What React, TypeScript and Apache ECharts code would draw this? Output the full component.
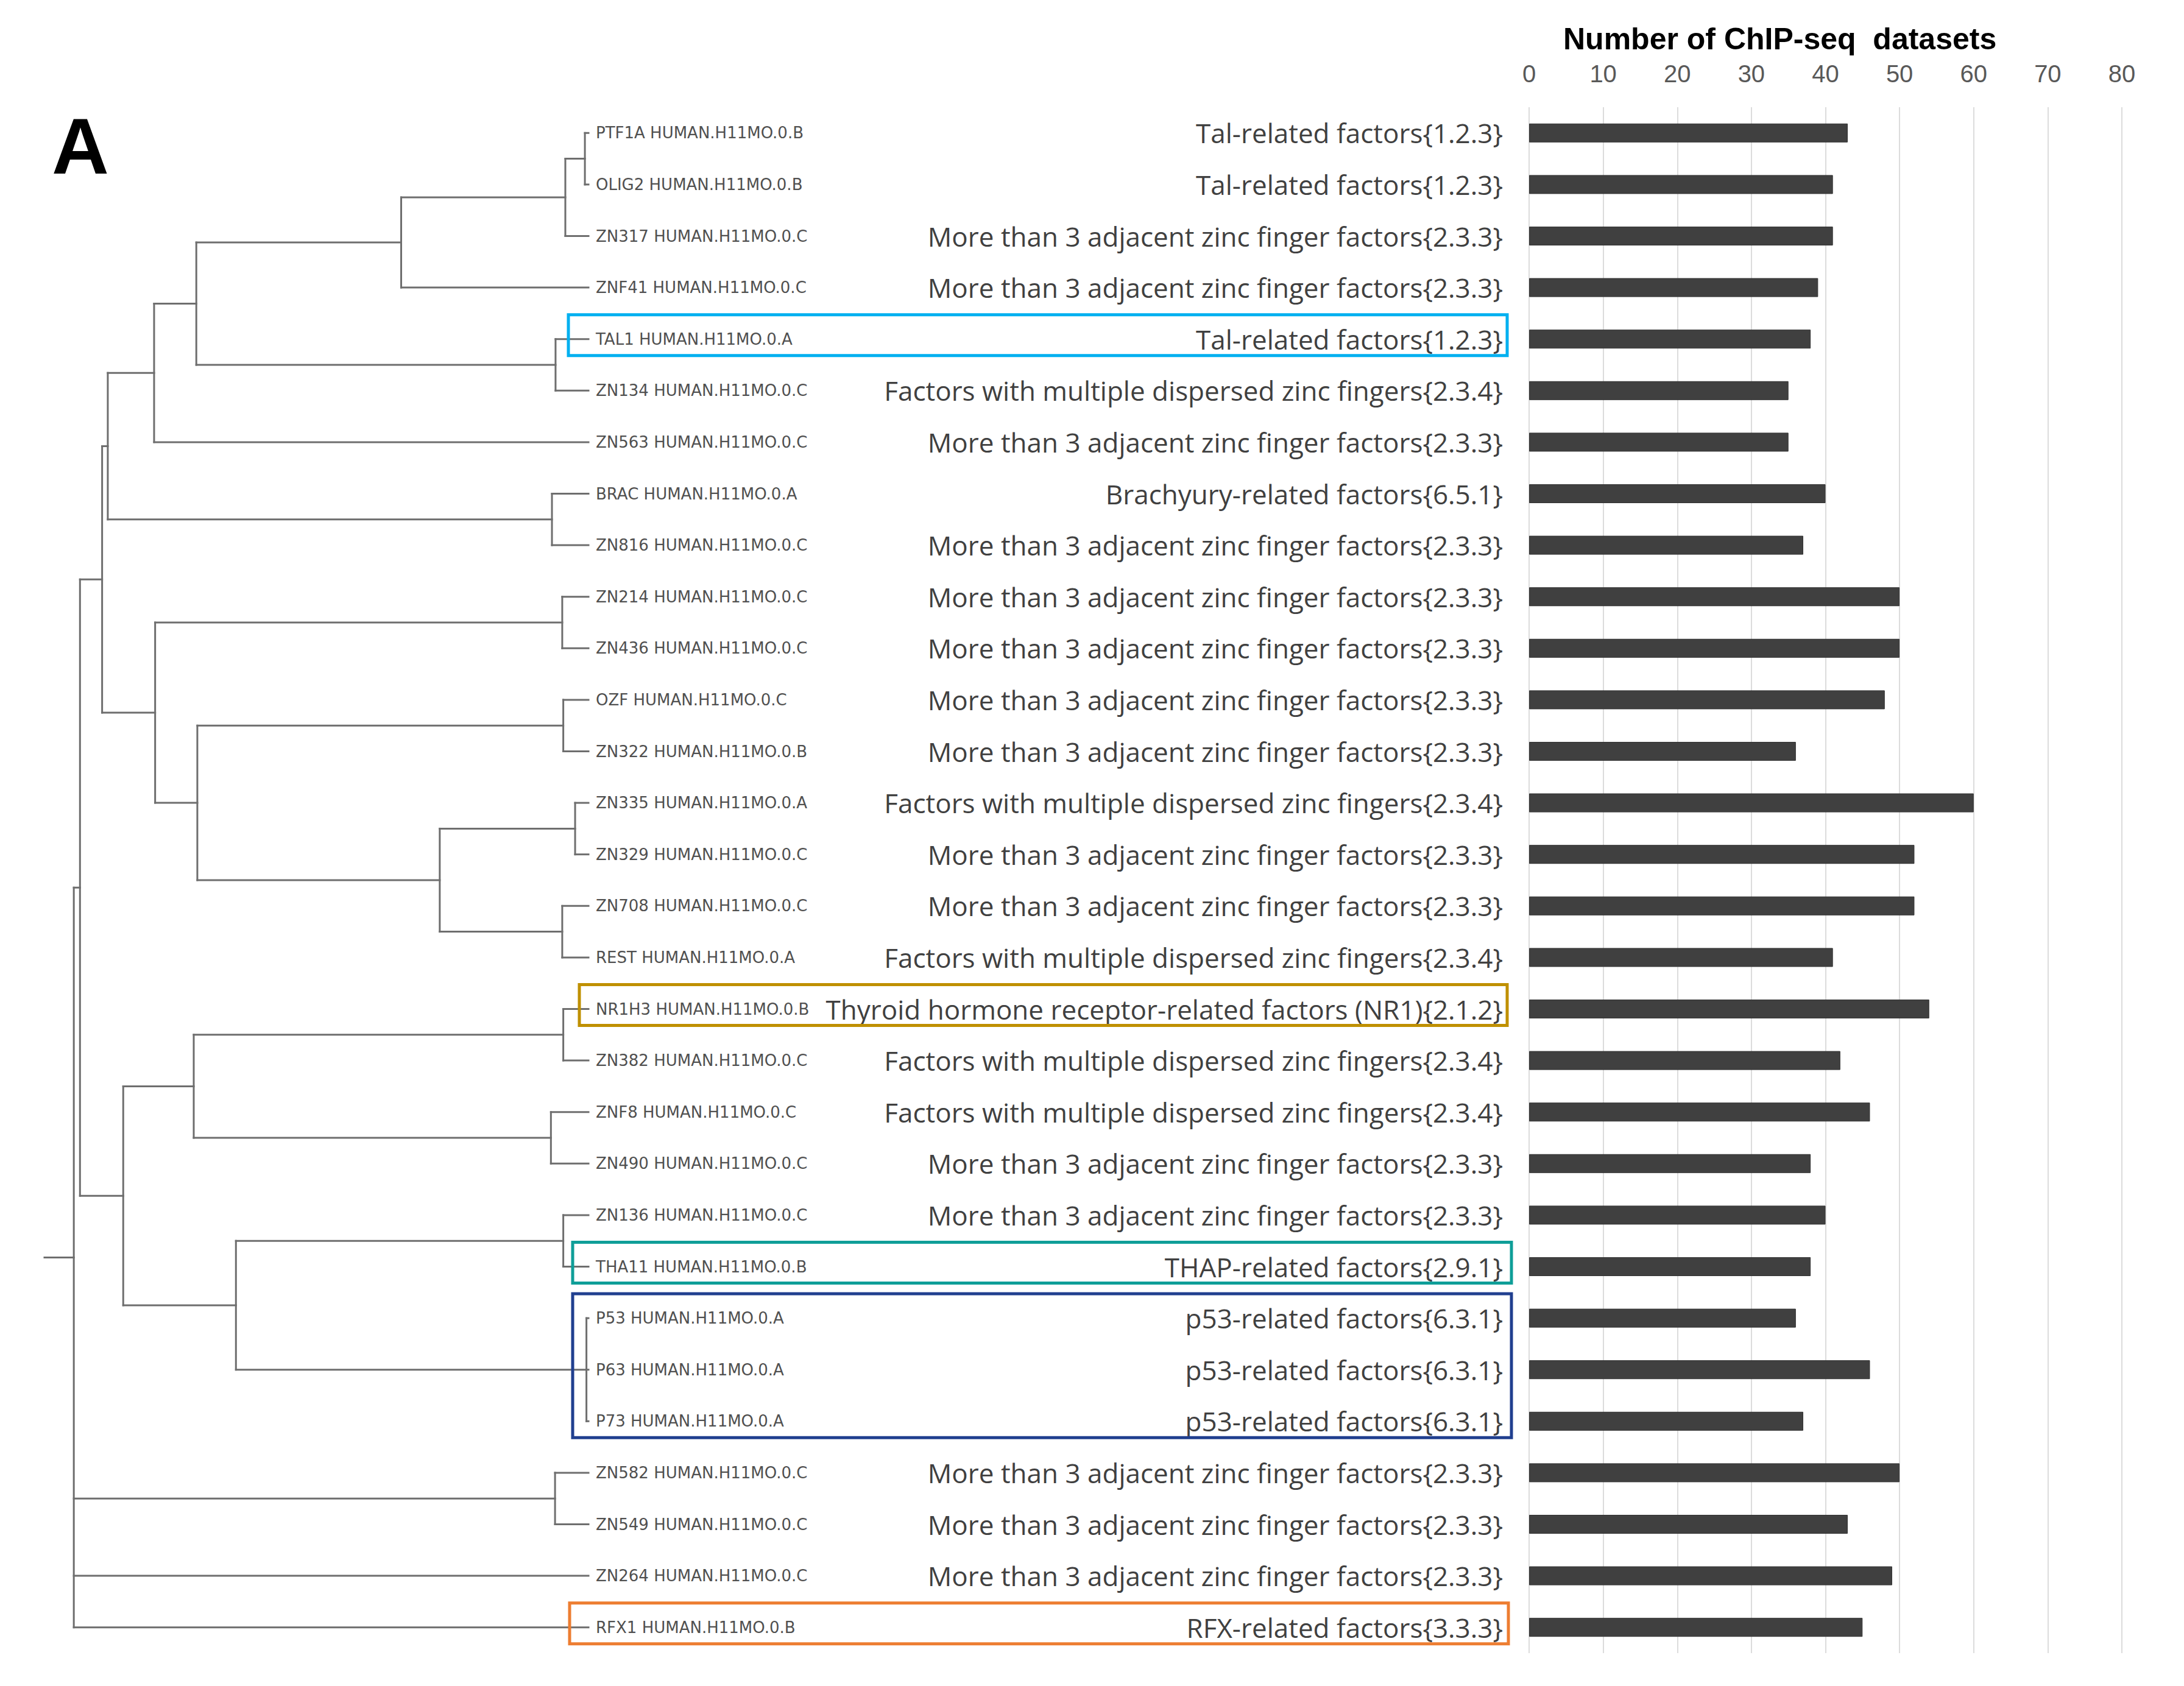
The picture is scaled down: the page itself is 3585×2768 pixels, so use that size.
import React, { useEffect, useRef } from 'react';
import * as echarts from 'echarts';

// ---------- data ----------
const motifNames = [
  'PTF1A HUMAN.H11MO.0.B', 'OLIG2 HUMAN.H11MO.0.B', 'ZN317 HUMAN.H11MO.0.C', 'ZNF41 HUMAN.H11MO.0.C',
  'TAL1 HUMAN.H11MO.0.A', 'ZN134 HUMAN.H11MO.0.C', 'ZN563 HUMAN.H11MO.0.C', 'BRAC HUMAN.H11MO.0.A',
  'ZN816 HUMAN.H11MO.0.C', 'ZN214 HUMAN.H11MO.0.C', 'ZN436 HUMAN.H11MO.0.C', 'OZF HUMAN.H11MO.0.C',
  'ZN322 HUMAN.H11MO.0.B', 'ZN335 HUMAN.H11MO.0.A', 'ZN329 HUMAN.H11MO.0.C', 'ZN708 HUMAN.H11MO.0.C',
  'REST HUMAN.H11MO.0.A', 'NR1H3 HUMAN.H11MO.0.B', 'ZN382 HUMAN.H11MO.0.C', 'ZNF8 HUMAN.H11MO.0.C',
  'ZN490 HUMAN.H11MO.0.C', 'ZN136 HUMAN.H11MO.0.C', 'THA11 HUMAN.H11MO.0.B', 'P53 HUMAN.H11MO.0.A',
  'P63 HUMAN.H11MO.0.A', 'P73 HUMAN.H11MO.0.A', 'ZN582 HUMAN.H11MO.0.C', 'ZN549 HUMAN.H11MO.0.C',
  'ZN264 HUMAN.H11MO.0.C', 'RFX1 HUMAN.H11MO.0.B',
];

const TAL = 'Tal-related factors{1.2.3}';
const ZF3 = 'More than 3 adjacent zinc finger factors{2.3.3}';
const ZFD = 'Factors with multiple dispersed zinc fingers{2.3.4}';
const P53F = 'p53-related factors{6.3.1}';

const tfFamilies = [
  TAL, TAL, ZF3, ZF3, TAL, ZFD, ZF3, 'Brachyury-related factors{6.5.1}', ZF3, ZF3,
  ZF3, ZF3, ZF3, ZFD, ZF3, ZF3, ZFD, 'Thyroid hormone receptor-related factors (NR1){2.1.2}', ZFD, ZFD,
  ZF3, ZF3, 'THAP-related factors{2.9.1}', P53F, P53F, P53F, ZF3, ZF3, ZF3, 'RFX-related factors{3.3.3}',
];

const chipSeqCounts = [
  43, 41, 41, 39, 38, 35, 35, 40, 37, 50,
  50, 48, 36, 60, 52, 52, 41, 54, 42, 46,
  38, 40, 38, 36, 46, 37, 50, 43, 49, 45,
];

const xTicks = [0, 10, 20, 30, 40, 50, 60, 70, 80];

// dendrogram merges: [node id, children (leaf index or node id), merge height]
const treeMerges: [string, (number | string)[], number][] = [
  ['n1', [0, 1], 0.007],
  ['n2', ['n1', 2], 0.045],
  ['n3', ['n2', 3], 0.364],
  ['n4', [4, 5], 0.064],
  ['n5', ['n3', 'n4'], 0.762],
  ['n6', ['n5', 6], 0.844],
  ['n7', [7, 8], 0.071],
  ['n8', ['n6', 'n7'], 0.934],
  ['n9', [9, 10], 0.051],
  ['n10', [11, 12], 0.049],
  ['n11', [13, 14], 0.026],
  ['n12', [15, 16], 0.051],
  ['n13', ['n11', 'n12'], 0.289],
  ['n14', ['n10', 'n13'], 0.76],
  ['n15', ['n9', 'n14'], 0.842],
  ['n16', ['n8', 'n15'], 0.945],
  ['n17', [17, 18], 0.049],
  ['n18', [19, 20], 0.073],
  ['n19', ['n17', 'n18'], 0.767],
  ['n20', [21, 22], 0.049],
  ['n21', [23, 24, 25], 0.004],
  ['n22', ['n20', 'n21'], 0.685],
  ['n23', ['n19', 'n22'], 0.904],
  ['n24', ['n16', 'n23'], 0.988],
  ['n25', [26, 27], 0.065],
  ['root', ['n24', 'n25', 28, 29], 1.0],
];
const rootStubEnd = 1.057;

// highlighted rows: [first row, last row, colour]
const highlightRows: [number, number, string][] = [
  [4, 4, '#00B0F0'],
  [17, 17, '#BF9000'],
  [22, 22, '#0F9E98'],
  [23, 25, '#203F8F'],
  [29, 29, '#ED7D31'],
];

// ---------- layout ----------
const W = 3585;
const H = 2768;
const GRID_TOP = 176;
const GRID_H = 2538;
const DENDRO_LEFT = 73;
const DENDRO_RIGHT = 966;
const BAR_LEFT = 2510;
const BAR_RIGHT = 3483;
const BOX_X: [number, number][] = [[933, 2474], [951, 2474], [940, 2481], [940, 2481], [935, 2476]];

function buildSegments() {
  const pos: Record<string, { y: number; h: number }> = {};
  motifNames.forEach((_, i) => { pos[String(i)] = { y: i, h: 0 }; });
  const segs: number[][] = [];
  let rootId = '';
  treeMerges.forEach(([id, children, h]) => {
    const cs = children.map((c) => pos[String(c)]);
    const y0 = cs[0].y;
    const y1 = cs[cs.length - 1].y;
    segs.push([h, y0, h, y1]);
    cs.forEach((c) => segs.push([h, c.y, c.h, c.y]));
    pos[id] = { y: (y0 + y1) / 2, h };
    rootId = id;
  });
  const r = pos[rootId];
  segs.push([rootStubEnd, r.y, r.h, r.y]);
  return segs;
}

export default function App() {
  const ref = useRef<HTMLDivElement>(null);
  useEffect(() => {
    if (!ref.current) return;
    const chart = echarts.init(ref.current, undefined, { renderer: 'svg' });
    const segments = buildSegments();
    chart.setOption({
      animation: false,
      backgroundColor: '#ffffff',
      grid: [
        { left: DENDRO_LEFT, top: GRID_TOP, width: DENDRO_RIGHT - DENDRO_LEFT, height: GRID_H },
        { left: BAR_LEFT, top: GRID_TOP, width: BAR_RIGHT - BAR_LEFT, height: GRID_H },
      ],
      xAxis: [
        { gridIndex: 0, type: 'value', min: 0, max: rootStubEnd, inverse: true, show: false },
        {
          gridIndex: 1, type: 'value', min: 0, max: 80, interval: 10, position: 'top',
          data: xTicks,
          axisLine: { show: false }, axisTick: { show: false },
          splitLine: { show: true, lineStyle: { color: '#DCDCDC', width: 2 } },
          axisLabel: { fontFamily: 'Liberation Sans', fontSize: 40, color: '#595959', margin: 35 },
        },
      ],
      yAxis: [
        { gridIndex: 0, type: 'value', min: -0.5, max: 29.5, inverse: true, show: false },
        {
          gridIndex: 0, type: 'category', position: 'right', inverse: true, data: motifNames,
          axisLine: { show: false }, axisTick: { show: false }, splitLine: { show: false },
          axisLabel: { interval: 0, fontFamily: 'DejaVu Sans', fontSize: 26, color: '#505050', margin: 12 },
        },
        {
          gridIndex: 1, type: 'category', inverse: true, data: motifNames,
          axisLine: { show: false }, axisTick: { show: false }, splitLine: { show: false },
          axisLabel: {
            interval: 0, fontFamily: 'Open Sans', fontSize: 44, color: '#404040', margin: 43,
            formatter: (_v: string, i: number) => tfFamilies[i],
          },
        },
      ],
      series: [
        {
          type: 'custom', xAxisIndex: 0, yAxisIndex: 0, data: segments,
          encode: { x: [0, 2], y: [1, 3] },
          renderItem: (_p: any, api: any) => {
            const a = api.coord([api.value(0), api.value(1)]);
            const b = api.coord([api.value(2), api.value(3)]);
            return {
              type: 'line',
              shape: { x1: a[0], y1: a[1], x2: b[0], y2: b[1] },
              style: { stroke: '#6e6e6e', lineWidth: 3, lineCap: 'square' },
            };
          },
        },
        {
          type: 'bar', xAxisIndex: 1, yAxisIndex: 2, data: chipSeqCounts, barWidth: 31,
          itemStyle: { color: '#404040', borderColor: '#333333', borderWidth: 1 },
        },
      ],
    });

    const rowY = (i: number) => chart.convertToPixel({ yAxisIndex: 0 }, i) as number;
    const graphics: any[] = [
      {
        type: 'text', x: 85, y: 240, z: 100,
        style: { text: 'A', fontFamily: 'Liberation Sans', fontWeight: 'bold', fontSize: 130, fill: '#000', verticalAlign: 'middle', align: 'left' },
      },
      {
        type: 'text', x: 2566, y: 64, z: 100,
        style: { text: 'Number of ChIP-seq  datasets', fontFamily: 'Liberation Sans', fontWeight: 'bold', fontSize: 50, fill: '#000', verticalAlign: 'middle', align: 'left' },
      },
    ];
    highlightRows.forEach(([first, last, color], k) => {
      const top = rowY(first) - 40;
      const bottom = rowY(last) + 27;
      const [x0, x1] = BOX_X[k];
      graphics.push({
        type: 'rect', z: 100,
        shape: { x: x0, y: top, width: x1 - x0, height: bottom - top },
        style: { fill: 'none', stroke: color, lineWidth: 5 },
      });
    });
    chart.setOption({ graphic: graphics });
    return () => chart.dispose();
  }, []);
  return <div ref={ref} style={{ position: 'fixed', left: 0, top: 0, width: W, height: H }} />;
}
